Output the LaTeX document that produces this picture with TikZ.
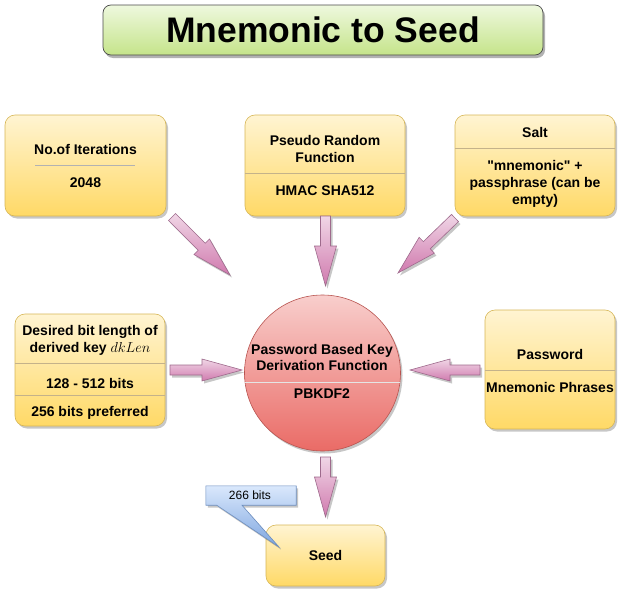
\documentclass[tikz,border=0pt]{standalone}
\usepackage{fontspec}
\setmainfont{Liberation Sans}[Ligatures=TeXOff]
\usetikzlibrary{calc,shadows}

% palette
\definecolor{boxtop}{HTML}{FFF4D2}
\definecolor{boxbot}{HTML}{FFD966}
\definecolor{boxline}{HTML}{D6B656}
\definecolor{boxrule}{HTML}{C4B28A}
\definecolor{kdftop}{HTML}{F8CECC}
\definecolor{kdfbot}{HTML}{EA6B66}
\definecolor{kdfline}{HTML}{B85450}
\definecolor{arrtop}{HTML}{F0D6E6}
\definecolor{arrbot}{HTML}{D07AAE}
\definecolor{arrline}{HTML}{9E6A8C}
\definecolor{notetop}{HTML}{DAE8FC}
\definecolor{notebot}{HTML}{7EA6E0}
\definecolor{noteline}{HTML}{6C8EBF}
\definecolor{titletop}{HTML}{EEF8DE}
\definecolor{titlemid}{HTML}{D4EDA6}
\definecolor{titlebot}{HTML}{C5E48A}
\definecolor{titleline}{HTML}{4A4A4A}

\tikzset{
  softshadow/.style={drop shadow={shadow xshift=2pt, shadow yshift=-2.5pt, opacity=0.22, fill=black}},
  card/.style={draw=boxline, line width=0.6pt, rounded corners=10pt,
    top color=boxtop, bottom color=boxbot, softshadow, inner sep=0pt},
  lbl/.style={anchor=base, font=\fontsize{14}{17}\selectfont\bfseries, inner sep=0pt},
  rulefull/.style={draw=boxrule, line width=0.5pt},
  % thick block arrow from the start point to the end point
  blockarrow/.style={draw=arrline, line width=0.6pt, line join=miter,
    top color=arrtop, bottom color=arrbot, softshadow,
    to path={
      -- ($(\tikztostart)!5pt!90:(\tikztotarget)$)
      -- ($($(\tikztotarget)!40pt!(\tikztostart)$)!5pt!90:(\tikztotarget)$)
      -- ($($(\tikztotarget)!40pt!(\tikztostart)$)!11pt!90:(\tikztotarget)$)
      -- (\tikztotarget)
      -- ($($(\tikztotarget)!40pt!(\tikztostart)$)!11pt!-90:(\tikztotarget)$)
      -- ($($(\tikztotarget)!40pt!(\tikztostart)$)!5pt!-90:(\tikztotarget)$)
      -- ($(\tikztostart)!5pt!-90:(\tikztotarget)$)
      -- cycle}}
}

\begin{document}
\begin{tikzpicture}[x=1pt,y=-1pt]
\useasboundingbox (0,0) rectangle (627,597);

% title banner
\node[draw=titleline, line width=0.7pt, rounded corners=8pt, minimum width=440pt, minimum height=50pt,
      top color=titletop, middle color=titlemid, bottom color=titlebot,
      drop shadow={shadow xshift=2pt, shadow yshift=-3pt, opacity=0.3, fill=black}] (title) at (323,30) {};
\node[anchor=base, inner sep=0pt, font=\fontsize{35.5}{40}\selectfont\bfseries] (titletext) at (323,42) {Mnemonic to Seed};

% input cards
\node[card, minimum width=161pt, minimum height=101pt] (iter) at (85.5,165.5) {};
\draw[gray!60, line width=0.6pt] (35,165) -- (135,165);
\node[lbl] (iterA) at (85.5,154) {No.of Iterations};
\node[lbl] (iterB) at (85.5,187) {2048};

\node[card, minimum width=160pt, minimum height=101pt] (prf) at (325,165.5) {};
\draw[rulefull] (245,173) -- (405,173);
\node[lbl] (prfA) at (325,145) {Pseudo Random};
\node[lbl] (prfB) at (325,162) {Function};
\node[lbl] (prfC) at (325,195) {HMAC SHA512};

\node[card, minimum width=160pt, minimum height=101pt] (salt) at (535,165.5) {};
\draw[rulefull] (455,148) -- (615,148);
\node[lbl] (saltA) at (535,137) {Salt};
\node[lbl] (saltB) at (535,170) {"mnemonic" +};
\node[lbl] (saltC) at (535,187) {passphrase (can be};
\node[lbl] (saltD) at (535,204) {empty)};

\node[card, minimum width=150pt, minimum height=112pt] (dk) at (90,370) {};
\draw[rulefull] (15,363) -- (165,363);
\draw[rulefull] (15,395) -- (165,395);
\node[lbl] (dkA) at (90,335) {Desired bit length of};
\node[lbl] (dkB) at (90,352) {derived key $dkLen$};
\node[lbl] (dkC) at (90,388) {128 - 512 bits};
\node[lbl] (dkD) at (90,416) {256 bits preferred};

\node[card, minimum width=130pt, minimum height=119pt] (pw) at (550,369.5) {};
\draw[rulefull] (485,370) -- (615,370);
\node[lbl] (pwA) at (550,359) {Password};
\node[lbl] (pwB) at (550,392) {Mnemonic Phrases};

% key derivation function
\node[circle, draw=kdfline, line width=0.6pt, top color=kdftop, bottom color=kdfbot,
      minimum size=156pt, inner sep=0pt, softshadow] (kdf) at (322.5,373) {};
\draw[white!80!gray, line width=0.6pt] ($(kdf.center)+(-77.4,9)$) -- ($(kdf.center)+(77.4,9)$);
\node[lbl] (kdfA) at (322,354) {Password Based Key};
\node[lbl] (kdfB) at (322,370) {Derivation Function};
\node[lbl] (kdfC) at (322,398) {PBKDF2};

% output
\node[card, minimum width=119pt, minimum height=61pt] (seed) at (325.5,555.5) {};
\node[lbl] (seedA) at (325.5,560) {Seed};

% size note
\node[inner sep=0pt, minimum width=90pt, minimum height=19pt] (note) at (251,495.5) {};
\coordinate (notetip) at (279,547);
\path[draw=noteline, line width=0.6pt, top color=notetop, bottom color=notebot, softshadow]
  (note.north west) -- (note.north east) -- (note.south east)
  -- ($(note.south west)!0.4!(note.south east)$) -- (notetip)
  -- ($(note.south west)!0.12!(note.south east)$) -- (note.south west) -- cycle;
\node[anchor=base, inner sep=0pt, font=\fontsize{12}{14}\selectfont] (notetext) at (250,499) {266 bits};

% arrow end points
\coordinate (a1s) at (172,217); \coordinate (a1t) at (230,275);
\coordinate (a2s) at (325.5,216); \coordinate (a2t) at (325.5,286);
\coordinate (a3s) at (455,218); \coordinate (a3t) at (398,273);
\coordinate (a4s) at (170,370); \coordinate (a4t) at (242,370);
\coordinate (a5s) at (480,370); \coordinate (a5t) at (410,370);
\coordinate (a6s) at (325.5,457); \coordinate (a6t) at (325.5,517);

\draw[blockarrow] (a1s) to (a1t);
\draw[blockarrow] (a2s) to (a2t);
\draw[blockarrow] (a3s) to (a3t);
\draw[blockarrow] (a4s) to (a4t);
\draw[blockarrow] (a5s) to (a5t);
\draw[blockarrow] (a6s) to (a6t);
\end{tikzpicture}
\end{document}
